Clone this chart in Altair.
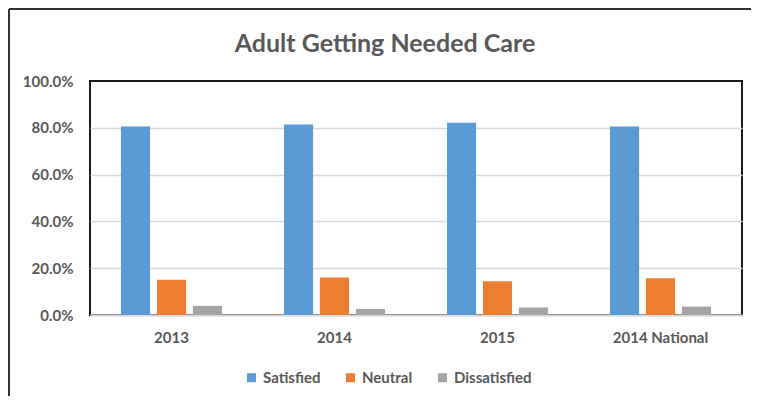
import altair as alt
import pandas as pd

categories = ["2013", "2014", "2015", "2014 National"]
series = ["Satisfied", "Neutral", "Dissatisfied"]
satisfied = [0.806, 0.814, 0.822, 0.806]
neutral = [0.151, 0.160, 0.144, 0.157]
dissatisfied = [0.039, 0.026, 0.032, 0.036]
colors = ["#5B9BD5", "#ED7D31", "#A5A5A5"]
y_ticks = [0, 0.2, 0.4, 0.6, 0.8, 1.0]

rows = []
for i, c in enumerate(categories):
    for s, vals in zip(series, [satisfied, neutral, dissatisfied]):
        rows.append({"category": c, "series": s, "value": vals[i]})
df = pd.DataFrame(rows)

FONT = "Lato"
TEXT = "#595959"
GRID = "#D9D9D9"

bars = alt.Chart(df).mark_bar().encode(
    x=alt.X(
        "category:N",
        sort=categories,
        scale=alt.Scale(paddingInner=0.38, paddingOuter=0.19),
        axis=alt.Axis(
            title=None, labelAngle=0, ticks=False, grid=False,
            domainColor=GRID, domainWidth=2,
            labelPadding=15, labelFontSize=15, labelFont=FONT,
            labelFontWeight="bold", labelColor=TEXT,
        ),
    ),
    xOffset=alt.XOffset(
        "series:N", sort=series,
        scale=alt.Scale(paddingInner=0.19, paddingOuter=0),
    ),
    y=alt.Y(
        "value:Q",
        scale=alt.Scale(domain=[0, 1], nice=False),
        axis=alt.Axis(
            values=y_ticks, format=".1%", title=None, ticks=False, domain=False,
            gridColor={"condition": {"test": "datum.value >= 1", "value": "transparent"}, "value": GRID},
            gridWidth=1.5,
            labelPadding=17, labelFontSize=15, labelFont=FONT,
            labelFontWeight="bold", labelColor=TEXT,
        ),
    ),
    color=alt.Color(
        "series:N", sort=series,
        scale=alt.Scale(domain=series, range=colors),
        legend=alt.Legend(
            title=None, orient="none", direction="horizontal",
            legendX=154, legendY=289,
            symbolType="square", symbolSize=81, symbolStrokeWidth=0,
            labelOffset=4, columnPadding=22,
            labelFontSize=15, labelFont=FONT, labelFontWeight="bold",
            labelColor=TEXT,
        ),
    ),
)

one = pd.DataFrame({"a": [0]})
frame_left = alt.Chart(one).mark_rule(color="#333333", strokeWidth=2).encode(
    x=alt.value(-81), y=alt.value(-72), y2=alt.value(320)
)
frame_top = alt.Chart(one).mark_rule(color="#333333", strokeWidth=2).encode(
    y=alt.value(-72), x=alt.value(-81), x2=alt.value(680)
)

chart = (
    alt.layer(bars, frame_left, frame_top)
    .properties(
        width=652,
        height=234,
        padding={"left": 82, "top": 73, "right": 9, "bottom": 81},
        autosize="none",
        title=alt.TitleParams(
            "Adult Getting Needed Care",
            font=FONT, fontSize=25, fontWeight="bold", color=TEXT,
            anchor="middle", dx=-31, offset=-49, frame="group",
        ),
    )
    .configure_view(stroke="#1a1a1a", strokeWidth=2)
)

chart.save("out.html", embed_options={"renderer": "svg", "actions": False})
